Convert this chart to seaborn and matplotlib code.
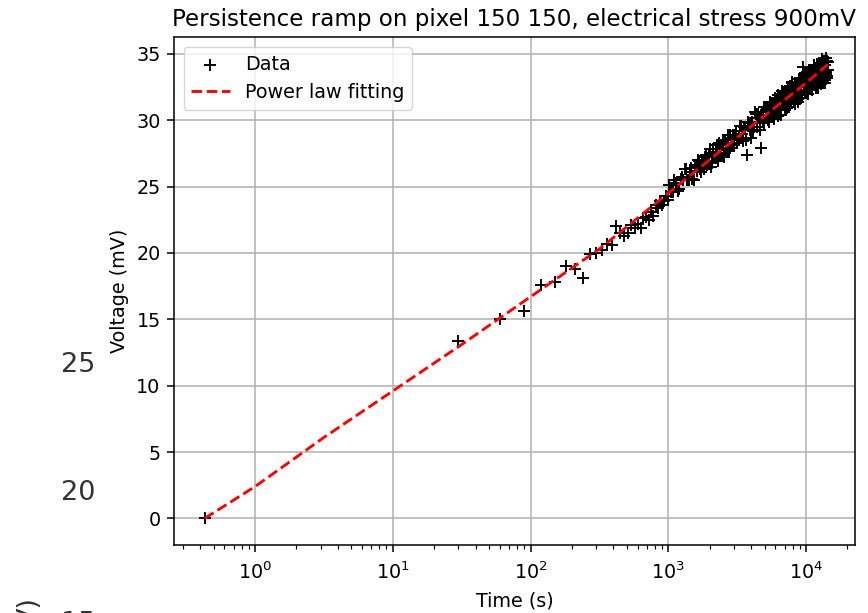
import matplotlib
matplotlib.use("Agg")
import matplotlib.pyplot as plt
import seaborn as sns
import pandas as pd

# ---- data ----
# early, well separated measurements
time_early_s = [0.43,
                30, 60, 90, 120, 150, 180, 210, 240, 270, 300, 330, 360, 390, 420, 450, 480,
                510, 540, 570, 600, 630, 660, 690, 720, 750, 780, 810, 840, 870, 900, 930, 960, 990]
volt_early_mv = [0.0,
                 13.4, 15.0, 15.6, 17.6, 17.8, 19.0, 18.8, 18.1, 19.9, 20.0, 20.2, 20.7, 20.6, 22.0,
                 21.5, 21.3, 21.5, 22.1, 21.9, 22.2, 21.9, 22.6, 22.7, 22.5, 23.1, 22.8, 23.6, 23.4,
                 23.9, 23.6, 23.9, 24.3, 24.0]

# dense band, 1000 s .. 3000 s
time_mid_s = [1020, 1050, 1080, 1110, 1140, 1170, 1200, 1230, 1260, 1290, 1320, 1350, 1380,
              1410, 1440, 1470, 1500, 1530, 1560, 1590, 1620, 1650, 1680, 1710, 1740, 1770,
              1800, 1830, 1860, 1890, 1920, 1950, 1980, 2010, 2040, 2070, 2100, 2130, 2160,
              2190, 2220, 2250, 2280, 2310, 2340, 2370, 2400, 2430, 2460, 2490, 2520, 2550,
              2580, 2610, 2640, 2670, 2700, 2730, 2760, 2790, 2820, 2850, 2880, 2910, 2940, 2970]
volt_mid_mv = [25.1, 24.6, 24.6, 25.5, 25.3, 24.7, 24.8, 25.6, 25.7, 25.5, 26.3, 26.3, 25.5,
               25.5, 26.1, 26.4, 25.6, 25.5, 26.6, 26.5, 26.2, 27.0, 26.9, 26.3, 26.1, 26.9,
               26.8, 26.3, 27.2, 27.4, 26.6, 26.9, 27.3, 27.8, 26.5, 26.8, 27.8, 27.5, 27.2,
               27.2, 27.6, 28.1, 27.1, 26.9, 28.3, 28.1, 27.5, 27.8, 28.1, 28.4, 27.2, 27.4,
               28.5, 28.3, 28.1, 27.9, 28.5, 28.9, 27.7, 27.9, 28.9, 28.5, 28.2, 28.1, 28.6, 28.9]

# dense band, 3000 s .. 14400 s
time_late_s = [3000, 3060, 3120, 3180, 3240, 3300, 3360, 3420, 3480, 3540, 3600, 3660, 3720,
               3780, 3840, 3900, 3960, 4020, 4080, 4140, 4200, 4260, 4320, 4380, 4440, 4500,
               4560, 4620, 4680, 4740, 4800, 4860, 4920, 4980, 5040, 5100, 5160, 5220, 5280,
               5340, 5400, 5460, 5520, 5580, 5640, 5700, 5760, 5820, 5880, 5940, 6000, 6060,
               6120, 6180, 6240, 6300, 6360, 6420, 6480, 6540, 6600, 6660, 6720, 6780, 6840,
               6900, 6960, 7020, 7080, 7140, 7200, 7260, 7320, 7380, 7440, 7500, 7560, 7620,
               7680, 7740, 7800, 7860, 7920, 7980, 8040, 8100, 8160, 8220, 8280, 8340, 8400,
               8460, 8520, 8580, 8640, 8700, 8760, 8820, 8880, 8940, 9000, 9060, 9120, 9180,
               9240, 9300, 9360, 9420, 9480, 9540, 9600, 9660, 9720, 9780, 9840, 9900, 9960,
               10020, 10080, 10140, 10200, 10260, 10320, 10380, 10440, 10500, 10560, 10620,
               10680, 10740, 10800, 10860, 10920, 10980, 11040, 11100, 11160, 11220, 11280,
               11340, 11400, 11460, 11520, 11580, 11640, 11700, 11760, 11820, 11880, 11940,
               12000, 12060, 12120, 12180, 12240, 12300, 12360, 12420, 12480, 12540, 12600,
               12660, 12720, 12780, 12840, 12900, 12960, 13020, 13080, 13140, 13200, 13260,
               13320, 13380, 13440, 13500, 13560, 13620, 13680, 13740, 13800, 13860, 13920,
               13980, 14040, 14100, 14160, 14220, 14280, 14340, 14400]
volt_late_mv = [28.1, 28.9, 29.2, 28.3, 28.7, 29.6, 29.6, 29.0, 28.4, 29.5, 29.4, 28.5, 27.4,
                29.9, 29.8, 29.3, 28.7, 29.8, 29.9, 29.2, 29.5, 30.6, 30.5, 29.8, 29.5, 30.5,
                30.2, 29.3, 27.9, 30.4, 30.6, 29.9, 29.8, 31.0, 31.0, 30.4, 30.3, 30.9, 30.8,
                30.0, 29.9, 31.3, 31.4, 30.5, 30.6, 31.1, 31.0, 30.2, 30.1, 31.7, 31.5, 30.9,
                31.0, 31.6, 31.9, 30.3, 30.8, 31.6, 31.6, 30.9, 30.4, 32.2, 31.8, 31.4, 31.2,
                31.8, 32.1, 30.8, 31.1, 32.2, 31.8, 31.5, 30.9, 32.1, 32.3, 31.0, 31.7, 32.5,
                32.6, 31.8, 31.3, 32.8, 32.9, 31.6, 31.8, 32.4, 32.4, 31.5, 31.2, 32.8, 32.8,
                32.1, 31.9, 32.8, 32.5, 31.4, 31.6, 32.8, 33.1, 32.1, 32.3, 33.2, 32.9, 32.5,
                31.7, 33.0, 33.1, 31.9, 34.0, 33.2, 32.3, 32.5, 33.0, 33.5, 32.1, 32.3, 33.4,
                33.1, 32.7, 32.1, 33.6, 33.5, 32.0, 32.8, 33.4, 33.5, 32.7, 32.4,
                33.8, 33.8, 32.6, 32.9, 33.3, 33.5, 32.4, 32.3, 33.8, 33.8, 33.0,
                33.0, 34.2, 34.1, 32.9, 32.8, 33.6, 33.7, 32.4, 32.6, 33.9, 34.0,
                33.2, 33.4, 34.2, 34.0, 32.4, 32.8, 33.8, 34.3, 33.1, 33.3, 34.2,
                34.0, 32.9, 32.7, 34.1, 34.3, 33.4, 33.5, 34.6, 34.5, 32.9, 33.1,
                34.1, 34.3, 33.4, 33.5, 34.4, 34.5, 32.8, 33.0, 34.2, 34.4, 33.6,
                33.5, 34.7, 34.5, 33.2, 33.3, 34.5, 34.4, 33.8]

fit_time_s = [0.43, 1, 3.16, 10, 31.6, 100, 316, 1000, 3162, 10000, 14400]
fit_voltage_mv = [0.0, 2.4, 6.1, 9.6, 13.1, 16.7, 20.3, 24.5, 28.7, 32.8, 34.2]

title = "Persistence ramp on pixel 150 150, electrical stress 900mV"
x_label = "Time (s)"
y_label = "Voltage (mV)"
ghost_labels = ["25", "20", "15"]

data = pd.DataFrame({"t": time_early_s + time_mid_s + time_late_s,
                     "v": volt_early_mv + volt_mid_mv + volt_late_mv})
fit = pd.DataFrame({"t": fit_time_s, "v": fit_voltage_mv})

k = 1.38  # overall scale of the reference rendering
plt.rcParams.update({
    "axes.linewidth": 0.8 * k,
    "xtick.major.size": 3.5 * k, "ytick.major.size": 3.5 * k,
    "xtick.minor.size": 2.0 * k, "ytick.minor.size": 2.0 * k,
    "xtick.major.width": 0.8 * k, "ytick.major.width": 0.8 * k,
    "xtick.minor.width": 0.6 * k, "ytick.minor.width": 0.6 * k,
    "xtick.major.pad": 3.5 * k + 2.5, "ytick.major.pad": 3.5 * k,
    "axes.labelpad": 4.0 * k, "axes.titlepad": 6.0 * k,
})

fig = plt.figure(figsize=(8.68, 6.13), dpi=100)
ax = fig.add_axes([174 / 868, 1 - 545 / 613, (855 - 174) / 868, (545 - 37.3) / 613])

sns.scatterplot(data=data, x="t", y="v", marker="+", color="black", s=(6 * k) ** 2,
                linewidth=1.0 * k, ax=ax, label="Data", zorder=3)
sns.lineplot(data=fit, x="t", y="v", color="red", linestyle="--", linewidth=1.5 * k,
             ax=ax, label="Power law fitting", zorder=4)

ax.set_xscale("log")
ax.set_xlim(0.258, 22700)
ax.set_ylim(-2.0, 36.25)
ax.set_yticks([0, 5, 10, 15, 20, 25, 30, 35])
ax.grid(True, which="major", color="#b0b0b0", linewidth=0.8 * k)
ax.set_axisbelow(True)
ax.tick_params(labelsize=10 * k)
ax.set_title(title, fontsize=12 * k)
ax.set_xlabel(x_label, fontsize=10 * k)
ax.set_ylabel(y_label, fontsize=10 * k)
ax.legend(loc="upper left", fontsize=10 * k)

# fragments of another figure visible at the left edge of the reference
fig.text(78 / 868, 1 - 365 / 613, ghost_labels[0], fontsize=19.5, color="#333333",
         ha="center", va="center")
fig.text(78 / 868, 1 - 493 / 613, ghost_labels[1], fontsize=19.5, color="#333333",
         ha="center", va="center")
fig.text(78 / 868, 1 - 624 / 613, ghost_labels[2], fontsize=19.5, color="#333333",
         ha="center", va="center")
fig.text(30 / 868, 1 - 612 / 613, "V)", fontsize=19.5, color="#333333",
         ha="center", va="center", rotation=90)

fig.savefig("out.png", dpi=100)
